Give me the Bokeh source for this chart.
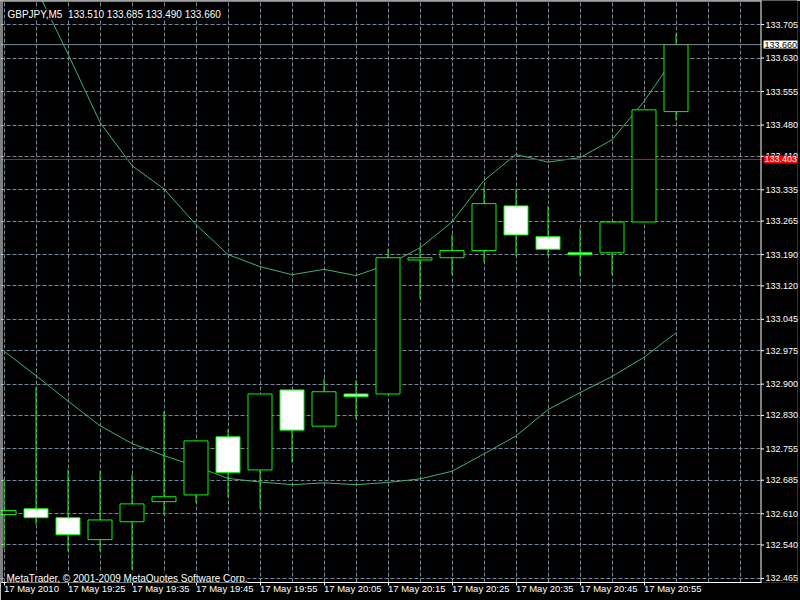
import math
from bokeh.plotting import figure
from bokeh.models import (Range1d, FixedTicker, Label, BoxAnnotation, PrintfTickFormatter,
                          ColumnDataSource)
from bokeh.embed import file_html
from bokeh.resources import INLINE

# ---------------- data ----------------
symbol = "GBPJPY,M5"
bar_times = ["19:15", "19:20", "19:25", "19:30", "19:35", "19:40", "19:45", "19:50",
             "19:55", "20:00", "20:05", "20:10", "20:15", "20:20", "20:25", "20:30",
             "20:35", "20:40", "20:45", "20:50", "20:55", "21:00"]
opens = [132.608, 132.621, 132.601, 132.552, 132.592, 132.637, 132.652, 132.782,
         132.708, 132.887, 132.806, 132.878, 132.878, 133.178, 133.183, 133.199,
         133.299, 133.230, 133.194, 133.194, 133.263, 133.510]
highs = [132.688, 132.893, 132.709, 132.706, 132.698, 132.840, 132.773, 132.799,
         132.878, 132.887, 132.912, 132.908, 133.202, 133.208, 133.235, 133.341,
         133.336, 133.298, 133.248, 133.263, 133.514, 133.685]
lows = [132.532, 132.586, 132.526, 132.526, 132.485, 132.608, 132.634, 132.647,
        132.621, 132.725, 132.806, 132.822, 132.878, 133.091, 133.145, 133.173,
        133.186, 133.186, 133.142, 133.145, 133.263, 133.490]
closes = [132.617, 132.601, 132.563, 132.596, 132.632, 132.648, 132.773, 132.702,
          132.878, 132.797, 132.883, 132.872, 133.183, 133.183, 133.199, 133.304,
          133.234, 133.202, 133.190, 133.263, 133.514, 133.660]
ma_fast = [math.nan, 133.787, 133.639, 133.486, 133.389, 133.337, 133.257, 133.190,
           133.163, 133.145, 133.157, 133.143, 133.168, 133.205, 133.263, 133.356,
           133.414, 133.397, 133.407, 133.447, 133.533, 133.636]
ma_slow = [132.974, 132.919, 132.862, 132.807, 132.767, 132.740, 132.716, 132.689,
           132.681, 132.675, 132.679, 132.675, 132.680, 132.688, 132.705, 132.744,
           132.784, 132.843, 132.881, 132.917, 132.960, 133.015]
price_ticks = [132.465, 132.540, 132.610, 132.685, 132.755, 132.830, 132.900, 132.975,
               133.045, 133.120, 133.190, 133.265, 133.335, 133.410, 133.480, 133.555,
               133.630, 133.705]
time_tick_bars = [0, 2, 4, 6, 8, 10, 12, 14, 16, 18, 20]
time_tick_labels = ["17 May 2010", "17 May 19:25", "17 May 19:35", "17 May 19:45",
                    "17 May 19:55", "17 May 20:05", "17 May 20:15", "17 May 20:25",
                    "17 May 20:35", "17 May 20:45", "17 May 20:55"]
hline_price = 133.403
copyright_text = "MetaTrader, \u00a9 2001-2009 MetaQuotes Software Corp."

# ---------------- layout / styling ----------------
FONT = "Liberation Sans"
FONT_SIZE = "9.5px"
CANDLE = "#00FF00"
GRID = "#778899"
MA_COLOR = "#3CB371"
BAR_PX = 32.0            # pixels per bar
PX_PER_PRICE = 446.77    # pixels per price unit
FRAME_W, FRAME_H = 797, 582

x_start = -3.5 / BAR_PX
x_end = x_start + FRAME_W / BAR_PX
y_end = price_ticks[-1] + 24 / PX_PER_PRICE
y_start = y_end - FRAME_H / PX_PER_PRICE


def xpx(px):
    return x_start + px / BAR_PX


def ypx(py):
    return y_end - py / PX_PER_PRICE


CHART_RIGHT = xpx(760.5)   # right border of the chart area; price scale lies beyond

bars = list(range(len(bar_times)))
src = ColumnDataSource(dict(
    x=bars, open=opens, high=highs, low=lows, close=closes,
    top=[max(o, c) for o, c in zip(opens, closes)],
    bottom=[min(o, c) for o, c in zip(opens, closes)],
    fill=["black" if c >= o else "white" for o, c in zip(opens, closes)],
))

p = figure(frame_width=FRAME_W, frame_height=FRAME_H,
           x_range=Range1d(x_start, x_end), y_range=Range1d(y_start, y_end),
           output_backend="svg", toolbar_location=None, y_axis_location="right",
           min_border_left=0, min_border_right=3, min_border_top=0,
           min_border_bottom=18, background_fill_color="black",
           border_fill_color="black", outline_line_color=None)

# price scale: a real axis whose labels are pulled back into the price-scale strip
p.yaxis.ticker = FixedTicker(ticks=price_ticks)
p.yaxis.formatter = PrintfTickFormatter(format="%.3f")
p.yaxis.major_label_text_font = FONT
p.yaxis.major_label_text_font_size = "9px"
p.yaxis.major_label_text_color = "white"
p.yaxis.major_label_standoff = -32
p.yaxis.major_tick_out = 0
p.yaxis.major_tick_in = 0
p.yaxis.major_tick_line_color = None
p.yaxis.minor_tick_line_color = None
p.yaxis.axis_line_color = None

# time scale: labels left-aligned at their ticks (tiny negative orientation)
p.xaxis.ticker = FixedTicker(ticks=time_tick_bars)
p.xaxis.major_label_overrides = dict(zip(time_tick_bars, time_tick_labels))
p.xaxis.major_label_orientation = -1e-6
p.xaxis.major_label_text_font = FONT
p.xaxis.major_label_text_font_size = FONT_SIZE
p.xaxis.major_label_text_color = "white"
p.xaxis.major_label_standoff = 3
p.xaxis.major_tick_out = 3
p.xaxis.major_tick_in = 0
p.xaxis.major_tick_line_color = "white"
p.xaxis.minor_tick_line_color = None
p.xaxis.axis_line_color = "white"
p.xaxis.bounds = (xpx(1), CHART_RIGHT)

# grid
p.xgrid.ticker = FixedTicker(ticks=list(range(len(bar_times) + 2)))
p.grid.grid_line_color = GRID
p.grid.grid_line_dash = "4 2"
p.grid.grid_line_width = 1

# keep the price-scale strip black (hides grid there)
p.add_layout(BoxAnnotation(left=xpx(761), fill_color="black", fill_alpha=1.0,
                           line_color=None, level="underlay"))

# moving averages (drawn below candles)
p.line(bars, ma_fast, line_color=MA_COLOR, line_width=1)
p.line(bars, ma_slow, line_color=MA_COLOR, line_width=1)

# candles
p.segment(x0="x", y0="low", x1="x", y1="high", line_color=CANDLE, line_width=1, source=src)
p.vbar(x="x", width=0.75, top="top", bottom="bottom", fill_color="fill",
       line_color=CANDLE, line_width=1, source=src)

# bid line and horizontal line, across the chart area only
bid = closes[-1]
p.segment(x0=[x_start], y0=[bid], x1=[CHART_RIGHT], y1=[bid], line_color=GRID, line_width=1)
p.segment(x0=[x_start], y0=[hline_price], x1=[CHART_RIGHT], y1=[hline_price],
          line_color="#FF0000", line_width=1)

# chart border (left, top, right) and price-scale tick marks
p.segment(x0=[xpx(1.5), xpx(1), CHART_RIGHT], y0=[ypx(582), ypx(0.5), ypx(582)],
          x1=[xpx(1.5), CHART_RIGHT, CHART_RIGHT], y1=[ypx(0), ypx(0.5), ypx(0)],
          line_color="white", line_width=1)
p.segment(x0=[CHART_RIGHT] * len(price_ticks), y0=price_ticks,
          x1=[xpx(763.5)] * len(price_ticks), y1=price_ticks,
          line_color="white", line_width=1)

# price tags on the price scale
p.add_layout(Label(x=xpx(763), y=bid, text=f"{bid:.3f}", text_font=FONT,
                   text_font_size="9px", text_color="black", text_baseline="middle",
                   background_fill_color="white", padding=1))
p.add_layout(Label(x=xpx(763), y=hline_price, text=f"{hline_price:.3f}", text_font=FONT,
                   text_font_size="9px", text_color="white", text_baseline="middle",
                   background_fill_color="#FF0000", padding=1))

# header and copyright
header = (f"{symbol}\u00a0 {opens[-1]:.3f} {highs[-1]:.3f} "
          f"{lows[-1]:.3f} {closes[-1]:.3f}")
p.add_layout(Label(x=7, y=568, x_units="screen", y_units="screen", text=header,
                   text_font=FONT, text_font_size="10px", text_color="white",
                   text_baseline="alphabetic", background_fill_color="black"))
p.add_layout(Label(x=6, y=4, x_units="screen", y_units="screen", text=copyright_text,
                   text_font=FONT, text_font_size="10px", text_color="white",
                   text_baseline="alphabetic", background_fill_color="black"))

open("out.html", "w").write(file_html(p, INLINE))
